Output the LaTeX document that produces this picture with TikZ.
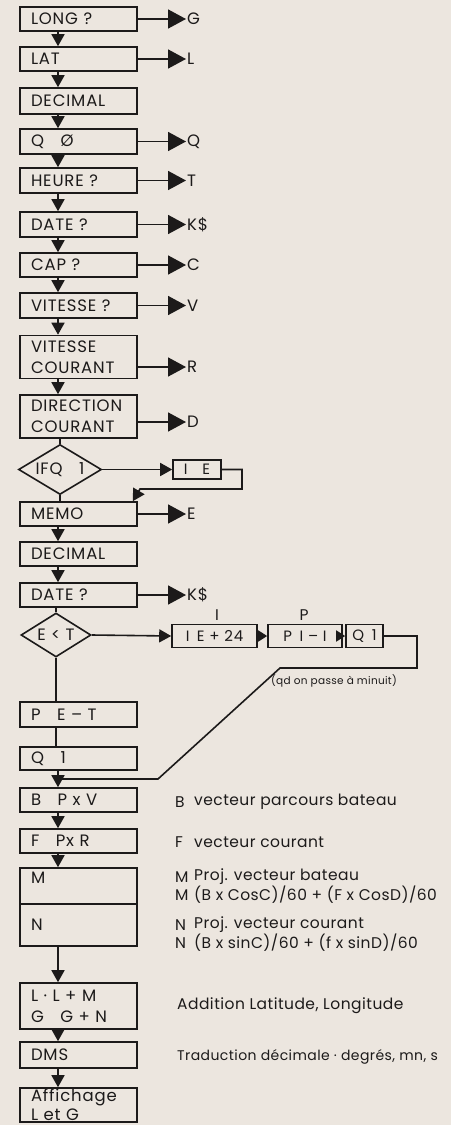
\documentclass[tikz,border=0pt]{standalone}
\usepackage{fontspec}
\setmainfont{Poppins}
\newfontfamily\boxface{Poppins}[LetterSpace=5]
\newfontfamily\legface{Poppins}[LetterSpace=3]
\usetikzlibrary{arrows.meta,shapes.geometric}
\definecolor{paper}{RGB}{236,230,223}
\definecolor{ink}{RGB}{28,26,26}
\newcommand{\boxfont}{\boxface\fontsize{16.5}{21}\selectfont}
\newcommand{\smallboxfont}{\boxface\fontsize{15}{18}\selectfont}
\newcommand{\legfont}{\legface\fontsize{15.5}{18}\selectfont}
\tikzset{
  box/.style={draw=ink, line width=1.6pt, minimum height=24pt, text width=95pt,
    align=left, inner xsep=11pt, inner ysep=1pt, font=\boxfont, text=ink},
  sbox/.style={draw=ink, line width=1.6pt, minimum height=23pt, inner xsep=2pt,
    inner ysep=1pt, font=\smallboxfont, text=ink},
  dia/.style={diamond, draw=ink, line width=1.6pt, inner sep=0pt, font=\boxfont, text=ink},
  outlbl/.style={anchor=west, inner sep=1pt, font=\boxfont, text=ink},
  legend/.style={anchor=west, inner sep=0pt, font=\legfont, text=ink},
  wire/.style={draw=ink, line width=1.6pt},
  arr/.style={wire, -{Triangle[length=12pt,width=13pt]}},
  sarr/.style={wire, -{Triangle[length=9pt,width=11pt]}},
  outarr/.style={wire, -{Triangle[length=18pt,width=19pt]}}
}
\begin{document}
\begin{tikzpicture}[x=1pt, y=-1pt]
  % Page
  \fill[paper] (0,0) rectangle (451,1125);
  \useasboundingbox (0,0) rectangle (451,1125);
  \coordinate (spine) at (58,0);

  % Input part
  \node[box] (long) at (78.5,19) {LONG ?};
  \node[box] (lat) at (78.5,59) {LAT};
  \node[box, minimum height=26pt] (dec) at (78.5,101) {DECIMAL};
  \node[box, minimum height=25pt] (qzero) at (78.5,141.5) {Q\quad Ø};
  \node[box, minimum height=25pt] (heure) at (78.5,180.5) {HEURE ?};
  \node[box, minimum height=25pt] (date) at (78.5,224.5) {DATE ?};
  \node[box] (cap) at (78.5,265) {CAP ?};
  \node[box, minimum height=25pt] (vit) at (78.5,305.5) {VITESSE ?};
  \node[box, minimum height=43pt] (vcour) at (78.5,357) {VITESSE\\COURANT};
  \node[box, minimum height=43pt] (dcour) at (78.5,416.5) {DIRECTION\\COURANT};

  % Variables
  \node[outlbl] (g) at (186,19) {G};
  \node[outlbl] (l) at (186,59) {L};
  \node[outlbl] (q) at (186,141.5) {Q};
  \node[outlbl] (t) at (186,180.5) {T};
  \node[outlbl] (k) at (186,224.5) {K\$};
  \node[outlbl] (c) at (186,265) {C};
  \node[outlbl] (v) at (186,305.5) {V};
  \node[outlbl] (r) at (186,367) {R};
  \node[outlbl] (d) at (186,422) {D};
  \draw[outarr] (long.east) -- (g.west);
  \draw[outarr] (lat.east) -- (l.west);
  \draw[outarr] (qzero.east) -- (q.west);
  \draw[outarr] (heure.east) -- (t.west);
  \draw[outarr] (date.east) -- (k.west);
  \draw[outarr] (cap.east) -- (c.west);
  \draw[outarr] (vit.east) -- (v.west);
  \draw[outarr] (r.west -| vcour.east) -- (r.west);
  \draw[outarr] (d.west -| dcour.east) -- (d.west);

  % Down the column
  \draw[arr] (long.south -| spine) -- (lat.north -| spine);
  \draw[arr] (lat.south -| spine) -- (dec.north -| spine);
  \draw[arr] (dec.south -| spine) -- (qzero.north -| spine);
  \draw[arr] (qzero.south -| spine) -- (heure.north -| spine);
  \draw[arr] (heure.south -| spine) -- (date.north -| spine);
  \draw[arr] (date.south -| spine) -- (cap.north -| spine);
  \draw[arr] (cap.south -| spine) -- (vit.north -| spine);
  \draw[arr] (vit.south -| spine) -- (vcour.north -| spine);
  \draw[arr] (vcour.south -| spine) -- (dcour.north -| spine);

  % Test IFQ
  \node[dia, minimum width=83pt, minimum height=50pt, aspect=1.66] (ifq) at (60,469.5) {IFQ\quad 1};
  \node[sbox, minimum width=48pt, minimum height=19pt] (ie) at (197,469.5) {I\quad E};
  \node[box] (memo) at (78.5,514) {MEMO};
  \node[outlbl] (e) at (186,514) {E};
  \coordinate (loopa) at (242,489);
  \coordinate (loopb) at (140,489);
  \draw[wire] (dcour.south -| ifq.north) -- (ifq.north);
  \draw[arr] (ifq.east) -- (ie.west);
  \draw[arr] (ie.east) -| (loopa) -- (loopb) -- ([xshift=-5pt]memo.north east);
  \draw[wire] (ifq.south) -- (memo.north -| ifq.south);
  \draw[outarr] (memo.east) -- (e.west);

  \node[box] (dec2) at (78.5,554) {DECIMAL};
  \node[box] (date2) at (78.5,595) {DATE ?};
  \node[outlbl] (k2) at (186,595) {K\$};
  \draw[arr] (memo.south -| spine) -- (dec2.north -| spine);
  \draw[arr] (dec2.south -| spine) -- (date2.north -| spine);
  \draw[outarr] (date2.east) -- (k2.west);

  % Test E<T (midnight)
  \node[dia, minimum width=70pt, minimum height=44pt, aspect=1.6] (et) at (56,635) {E < T};
  \node[sbox, minimum width=85pt] (ione) at (214.5,636) {I\enspace E + 24};
  \node[sbox, minimum width=74pt] (ptwo) at (305,636) {P\enspace I – I};
  \node[sbox, minimum width=37pt] (qthree) at (364.5,636) {Q\enspace 1};
  \node[legend, anchor=center] (ilbl) at (217,615) {I};
  \node[legend, anchor=center] (plbl) at (304,615) {P};
  \node[legend, anchor=center, font=\legface\fontsize{10.5}{13}\selectfont] (minuit) at (334,681) {(qd on passe à minuit)};
  \coordinate (mida) at (417,668);
  \coordinate (midb) at (280,668);
  \coordinate (midc) at (158,779);
  \coordinate (join) at (58,779);
  \draw[wire] (date2.south -| et.north) -- (et.north);
  \draw[arr] (et.east) -- (ione.west);
  \draw[sarr] (ione.east) -- (ptwo.west);
  \draw[sarr] (ptwo.east) -- (qthree.west);
  \draw[wire] (qthree.east) -| (mida) -- (midb) -- (midc) -- (join);

  \node[box, minimum height=25pt] (pet) at (78.5,714.5) {P\quad E – T};
  \node[box, minimum height=23pt] (qone) at (78.5,758.5) {Q\quad 1};
  \draw[wire] (et.south) -- (pet.north -| et.south);
  \draw[wire] (pet.south -| et.south) -- (qone.north -| et.south);

  % Computation
  \node[box] (bpv) at (78.5,800) {B\quad P x V};
  \node[box] (fpr) at (78.5,841) {F\quad Px R};
  \node[box, minimum height=36pt] (mbox) at (78.5,886) {};
  \node[legend, font=\boxfont] (mlbl) at (31,878) {M};
  \node[box, minimum height=42pt] (nbox) at (78.5,925) {N};
  \node[box, minimum height=46pt] (lbox) at (78.5,1006) {L · L + M\\G\quad G + N};
  \node[box, minimum height=26pt] (dms) at (78.5,1055) {DMS};
  \node[box, minimum height=34pt, font=\boxface\fontsize{16.5}{19}\selectfont] (aff) at (78.5,1105) {Affichage\\L et G};
  \draw[arr] (qone.south -| spine) -- (bpv.north -| spine);
  \draw[arr] (bpv.south -| spine) -- (fpr.north -| spine);
  \draw[arr] (fpr.south -| spine) -- (mbox.north -| spine);
  \draw[arr] (nbox.south -| spine) -- (lbox.north -| spine);
  \draw[arr] (lbox.south -| spine) -- (dms.north -| spine);
  \draw[arr] (dms.south -| spine) -- (aff.north -| spine);

  % Notes
  \node[legend] (bkey) at (175,802) {B};
  \node[legend] (bnote) at (194,802) {vecteur parcours bateau};
  \node[legend] (fkey) at (175,842) {F};
  \node[legend] (fnote) at (194,842) {vecteur courant};
  \node[legend] (mkey) at (175,877) {M};
  \node[legend] (mnote) at (194,877) {Proj. vecteur bateau};
  \node[legend] (mkey2) at (175,895) {M};
  \node[legend] (mnote2) at (194,895) {(B x CosC)/60 + (F x CosD)/60};
  \node[legend] (nkey) at (175,925) {N};
  \node[legend] (nnote) at (194,925) {Proj. vecteur courant};
  \node[legend] (nkey2) at (175,943) {N};
  \node[legend] (nnote2) at (194,943) {(B x sinC)/60 + (f x sinD)/60};
  \node[legend] (addnote) at (177,1006) {Addition Latitude, Longitude};
  \node[legend, font=\legface\fontsize{14}{17}\selectfont] (dmsnote) at (177,1057) {Traduction décimale · degrés, mn, s};
\end{tikzpicture}
\end{document}
